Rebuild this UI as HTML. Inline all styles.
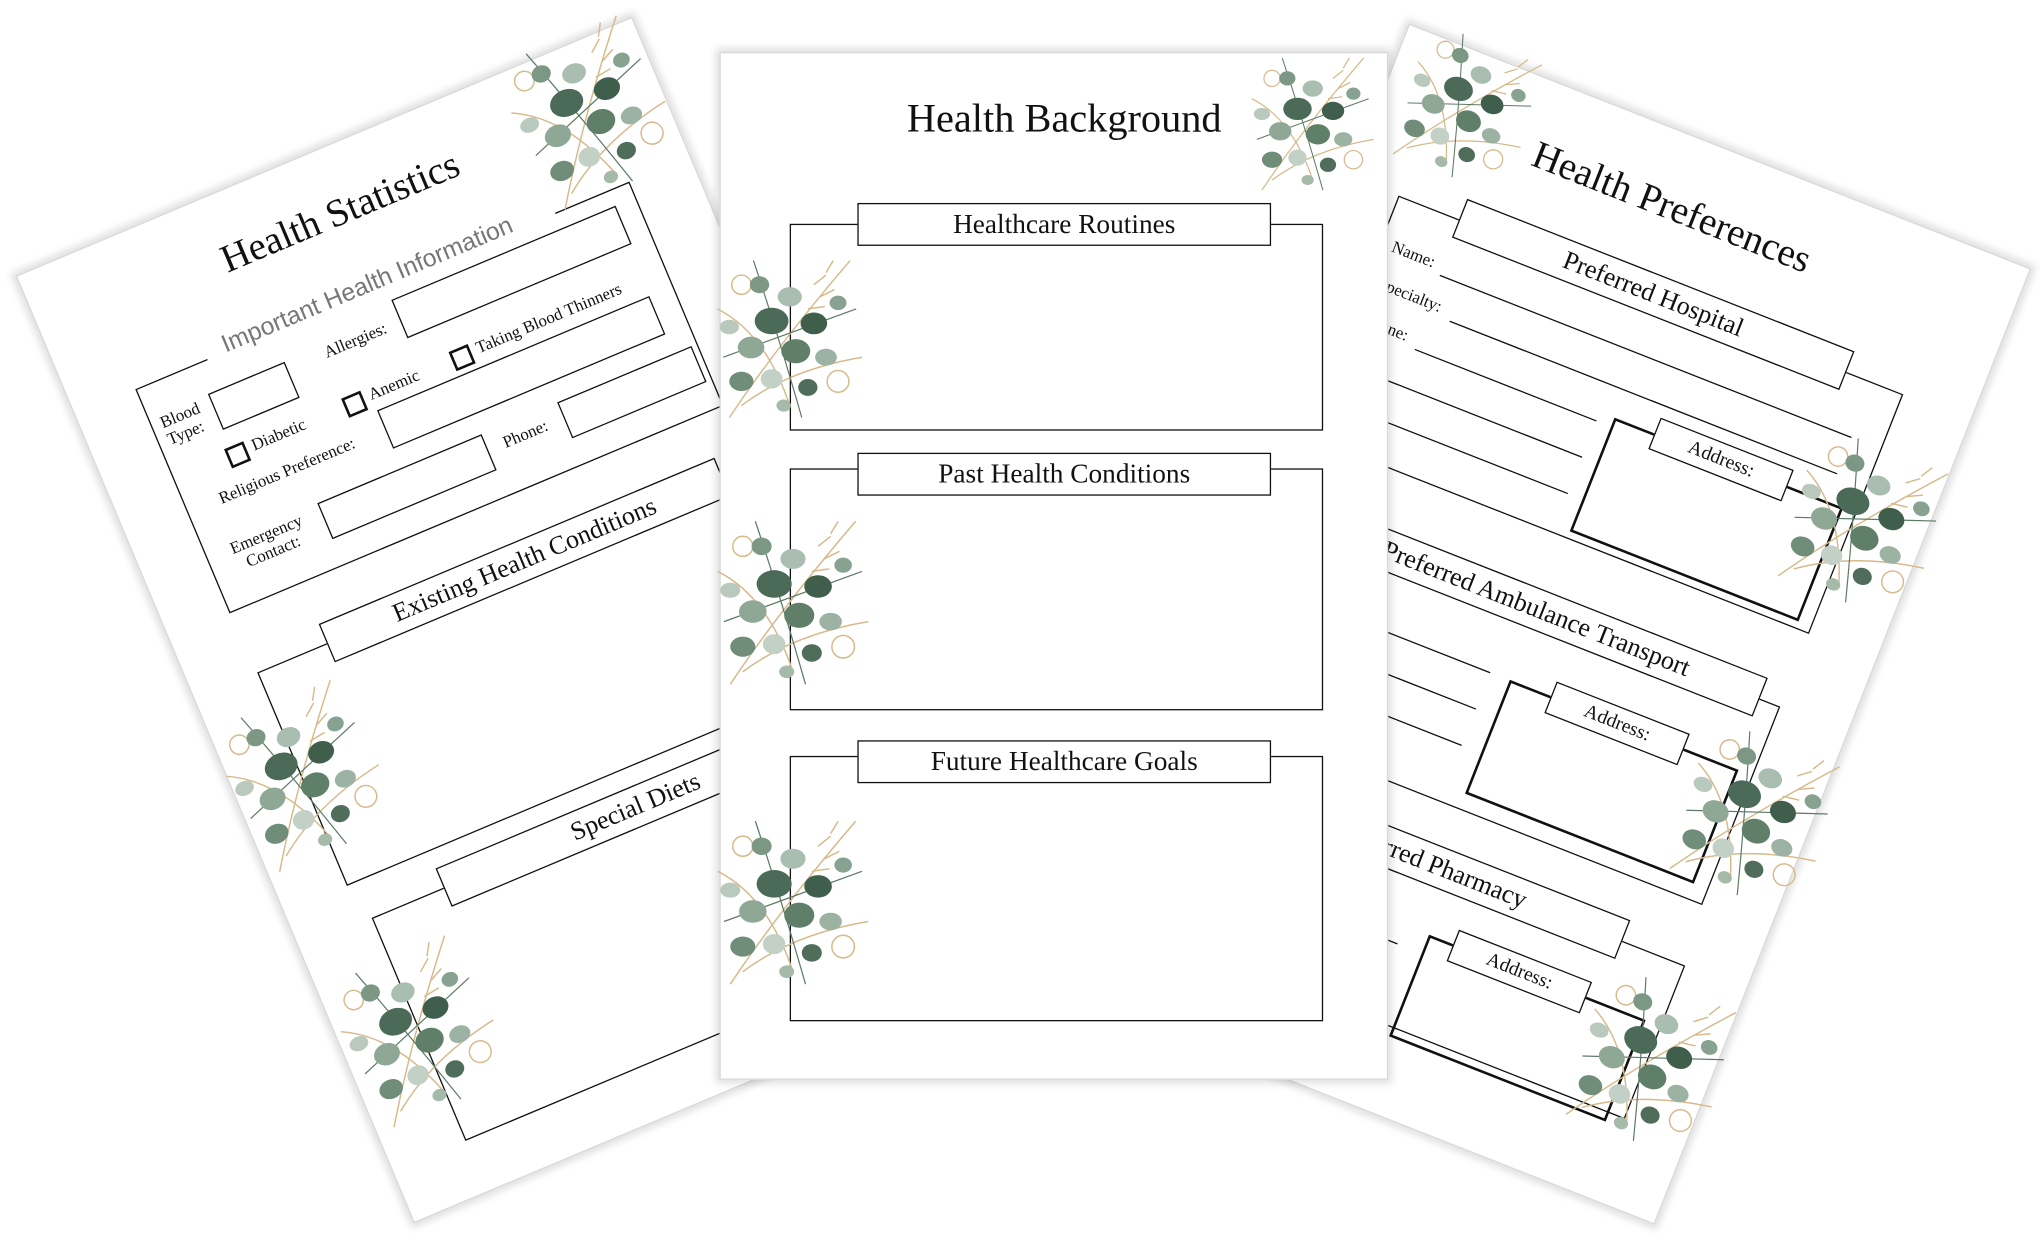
<!DOCTYPE html>
<html><head><meta charset="utf-8">
<style>
html,body{margin:0;padding:0;background:#fff;}
body{width:2040px;height:1239px;overflow:hidden;position:relative;}
#wrap{position:absolute;left:0;top:0;width:1568px;height:952px;transform:scale(1.30102);transform-origin:0 0;}
.page{position:absolute;width:512px;height:788px;background:#fff;border:1px solid #d8d8d8;box-shadow:0 0 6px 3px rgba(0,0,0,0.13);transform-origin:0 0;}
.a{position:absolute;}
.box{position:absolute;border:1.6px solid #111;background:transparent;}
.lbl{position:absolute;border:1.6px solid #111;background:#fff;text-align:center;font-family:"Liberation Serif",serif;color:#111;box-sizing:border-box;}
.t{position:absolute;font-family:"Liberation Serif",serif;color:#111;white-space:nowrap;}
.cb{position:absolute;width:12px;height:12px;border:2px solid #111;}
.ln{position:absolute;height:0;border-top:1.8px solid #111;}
.fl{position:absolute;}
</style></head><body>
<svg width="0" height="0" style="position:absolute">
<defs>
<symbol id="fl" viewBox="0 0 140 160">
<g fill="none" stroke="#d7b98a" stroke-width="1.2">
<path d="M20 150 Q60 90 120 20"/><path d="M30 140 Q70 110 130 100"/><path d="M10 60 Q50 80 70 140"/>
<path d="M90 40 l10 -8 M95 50 l12 -6 M85 60 l14 -2 M100 30 l6 -10"/>
<circle cx="110" cy="120" r="9"/><circle cx="30" cy="40" r="8"/>
</g>
<g stroke="#5d7a66" stroke-width="1" fill="none"><path d="M15 100 Q70 80 125 60"/><path d="M40 20 Q60 80 80 150"/></g>
<ellipse cx="55" cy="70" rx="14" ry="11" fill="#4b6a57"/>
<ellipse cx="75" cy="95" rx="12" ry="10" fill="#5f7f69"/>
<ellipse cx="38" cy="92" rx="11" ry="9" fill="#8fa896"/>
<ellipse cx="70" cy="50" rx="10" ry="8" fill="#a9bdb0"/>
<ellipse cx="90" cy="72" rx="11" ry="9" fill="#3f5e4b"/>
<ellipse cx="30" cy="120" rx="10" ry="8" fill="#6f8d78"/>
<ellipse cx="55" cy="118" rx="9" ry="8" fill="#c3d0c5"/>
<ellipse cx="100" cy="100" rx="9" ry="7" fill="#9cb2a2"/>
<ellipse cx="45" cy="40" rx="8" ry="7" fill="#7c9884"/>
<ellipse cx="85" cy="125" rx="8" ry="7" fill="#4f6d5a"/>
<ellipse cx="20" cy="75" rx="8" ry="6" fill="#b9c9bd"/>
<ellipse cx="110" cy="55" rx="7" ry="6" fill="#88a291"/>
<ellipse cx="65" cy="140" rx="6" ry="5" fill="#a6baa9"/>
</symbol>
</defs>
</svg>
<div id="wrap">

<!-- LEFT PAGE -->
<div class="page" style="left:12px;top:212px;transform:rotate(-22.8deg);">
  <div class="t" style="left:150px;top:34px;font-size:30px;">Health Statistics</div>
  <div class="box" style="left:50px;top:115px;width:410px;height:185px;"></div>
  <div class="a" style="left:110px;top:102px;width:290px;height:22px;background:#fff;"></div>
  <div class="t" style="left:125px;top:100px;font-size:19px;font-family:'Liberation Sans',sans-serif;color:#777;">Important Health Information</div>
  <div class="t" style="left:58px;top:140px;font-size:13px;line-height:14px;">Blood<br>Type:</div>
  <div class="box" style="left:100px;top:140px;width:62px;height:28px;"></div>
  <div class="t" style="left:195px;top:138px;font-size:13px;">Allergies:</div>
  <div class="box" style="left:258px;top:128px;width:185px;height:30px;"></div>
  <div class="cb" style="left:95px;top:184px;"></div>
  <div class="t" style="left:116px;top:182px;font-size:13px;">Diabetic</div>
  <div class="cb" style="left:193px;top:183px;"></div>
  <div class="t" style="left:214px;top:181px;font-size:13px;">Anemic</div>
  <div class="cb" style="left:283px;top:182px;"></div>
  <div class="t" style="left:304px;top:180px;font-size:13px;">Taking Blood Thinners</div>
  <div class="t" style="left:77px;top:210px;font-size:13px;">Religious Preference:</div>
  <div class="box" style="left:215px;top:202px;width:225px;height:30px;"></div>
  <div class="t" style="left:70px;top:250px;font-size:13px;line-height:14px;text-align:center;">Emergency<br>Contact:</div>
  <div class="box" style="left:145px;top:250px;width:135px;height:28px;"></div>
  <div class="t" style="left:295px;top:255px;font-size:13px;">Phone:</div>
  <div class="box" style="left:345px;top:250px;width:110px;height:28px;"></div>

  <div class="box" style="left:52px;top:352px;width:408px;height:176px;"></div>
  <div class="lbl" style="left:110px;top:336px;width:330px;height:32px;font-size:20px;line-height:30px;">Existing Health Conditions</div>
  <div class="box" style="left:60px;top:560px;width:400px;height:184px;"></div>
  <div class="lbl" style="left:120px;top:544px;width:320px;height:32px;font-size:20px;line-height:30px;">Special Diets</div>

  <svg class="fl" style="left:385px;top:-25px;" width="140" height="150"><use href="#fl"/></svg>
  <svg class="fl" style="left:-10px;top:360px;" width="130" height="150"><use href="#fl"/></svg>
  <svg class="fl" style="left:-5px;top:575px;" width="130" height="150"><use href="#fl"/></svg>
</div>

<!-- RIGHT PAGE -->
<div class="page" style="left:1083px;top:18px;transform:rotate(21.5deg);">
  <div class="t" style="left:125px;top:40px;font-size:30px;">Health Preferences</div>
  <div class="box" style="left:40px;top:125px;width:415px;height:196px;"></div>
  <div class="lbl" style="left:90px;top:108px;width:320px;height:32px;font-size:20px;line-height:30px;">Preferred Hospital</div>
  <div class="t" style="left:50px;top:155px;font-size:13px;">Name:</div>
  <div class="ln" style="left:92px;top:170px;width:340px;"></div>
  <div class="t" style="left:50px;top:185px;font-size:13px;">Specialty:</div>
  <div class="ln" style="left:112px;top:200px;width:320px;"></div>
  <div class="t" style="left:50px;top:215px;font-size:13px;">Phone:</div>
  <div class="ln" style="left:95px;top:230px;width:150px;"></div>
  <div class="t" style="left:50px;top:245px;font-size:13px;">Fax:</div>
  <div class="ln" style="left:80px;top:260px;width:165px;"></div>
  <div class="t" style="left:50px;top:275px;font-size:13px;">Email:</div>
  <div class="ln" style="left:90px;top:290px;width:155px;"></div>
  <div class="box" style="left:257px;top:223px;width:185px;height:90px;border-width:2px;"></div>
  <div class="lbl" style="left:290px;top:210px;width:110px;height:26px;font-size:15px;line-height:24px;">Address:</div>

  <div class="box" style="left:40px;top:383px;width:415px;height:162px;"></div>
  <div class="lbl" style="left:70px;top:366px;width:370px;height:32px;font-size:20px;line-height:30px;">Preferred Ambulance Transport</div>
  <div class="ln" style="left:50px;top:440px;width:190px;"></div>
  <div class="ln" style="left:50px;top:470px;width:190px;"></div>
  <div class="ln" style="left:50px;top:500px;width:190px;"></div>
  <div class="box" style="left:256px;top:440px;width:185px;height:90px;border-width:2px;"></div>
  <div class="lbl" style="left:290px;top:428px;width:110px;height:26px;font-size:15px;line-height:24px;">Address:</div>

  <div class="box" style="left:40px;top:595px;width:420px;height:125px;"></div>
  <div class="lbl" style="left:90px;top:578px;width:320px;height:32px;font-size:20px;line-height:30px;">Preferred Pharmacy</div>
  <div class="ln" style="left:50px;top:660px;width:200px;"></div>
  <div class="ln" style="left:50px;top:690px;width:200px;"></div>
  <div class="box" style="left:270px;top:645px;width:175px;height:80px;border-width:2px;"></div>
  <div class="lbl" style="left:290px;top:633px;width:110px;height:26px;font-size:15px;line-height:24px;">Address:</div>

  <svg class="fl" style="left:0px;top:-25px;" width="130" height="130"><use href="#fl"/></svg>
  <svg class="fl" style="left:400px;top:150px;" width="130" height="150"><use href="#fl"/></svg>
  <svg class="fl" style="left:405px;top:390px;" width="130" height="150"><use href="#fl"/></svg>
  <svg class="fl" style="left:400px;top:595px;" width="130" height="150"><use href="#fl"/></svg>
</div>

<!-- CENTER PAGE -->
<div class="page" style="left:553px;top:40px;">
  <div class="t" style="left:0;width:528px;text-align:center;top:32px;font-size:31px;">Health Background</div>
  <div class="box" style="left:53px;top:131px;width:408px;height:157px;"></div>
  <div class="lbl" style="left:105px;top:115px;width:318px;height:33px;font-size:21px;line-height:31px;">Healthcare Routines</div>
  <div class="box" style="left:53px;top:319px;width:408px;height:184px;"></div>
  <div class="lbl" style="left:105px;top:307px;width:318px;height:33px;font-size:21px;line-height:31px;">Past Health Conditions</div>
  <div class="box" style="left:53px;top:540px;width:408px;height:202px;"></div>
  <div class="lbl" style="left:105px;top:528px;width:318px;height:33px;font-size:21px;line-height:31px;">Future Healthcare Goals</div>

  <svg class="fl" style="left:385px;top:-12px;" width="140" height="125"><use href="#fl"/></svg>
  <svg class="fl" style="left:-12px;top:130px;" width="130" height="170"><use href="#fl"/></svg>
  <svg class="fl" style="left:-12px;top:330px;" width="135" height="175"><use href="#fl"/></svg>
  <svg class="fl" style="left:-12px;top:558px;" width="135" height="180"><use href="#fl"/></svg>
</div>

</div>
</body></html>
